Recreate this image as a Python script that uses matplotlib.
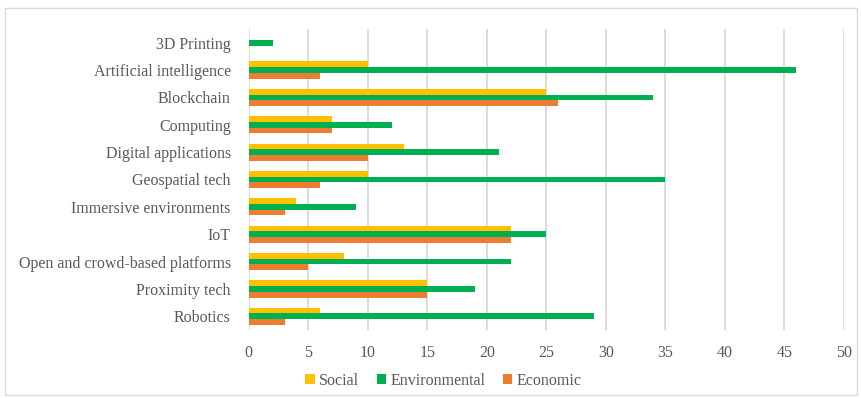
import numpy as np
import matplotlib
matplotlib.use("Agg")
import matplotlib.pyplot as plt
from matplotlib.patches import Rectangle

categories = ["3D Printing", "Artificial intelligence", "Blockchain", "Computing",
              "Digital applications", "Geospatial tech", "Immersive environments",
              "IoT", "Open and crowd-based platforms", "Proximity tech", "Robotics"]
social = [0, 10, 25, 7, 13, 10, 4, 22, 8, 15, 6]
environmental = [2, 46, 34, 12, 21, 35, 9, 25, 22, 19, 29]
economic = [0, 6, 26, 7, 10, 6, 3, 22, 5, 15, 3]

plt.rcParams['font.family'] = ['Liberation Serif', 'DejaVu Serif']
text_color = '#595959'

fig = plt.figure(figsize=(8.61, 3.98), dpi=100)
ax = fig.add_axes([0.289, 0.171, 0.691, 0.756])

y = np.arange(len(categories))
h = 0.21
ax.barh(y - h, social, height=h, color='#FFC000', label='Social')
ax.barh(y, environmental, height=h, color='#00B050', label='Environmental')
ax.barh(y + h, economic, height=h, color='#ED7D31', label='Economic')

ax.set_ylim(len(categories) - 0.5, -0.5)
ax.set_yticks(y)
ax.set_yticklabels(categories)
ax.set_xlim(0, 50)
ax.set_xticks(range(0, 51, 5))
ax.xaxis.grid(True, color='#d9d9d9', linewidth=1.3)
ax.set_axisbelow(True)
for s in ax.spines.values():
    s.set_visible(False)
ax.tick_params(length=0, labelsize=11.5, colors=text_color, pad=13)
ax.tick_params(axis='x', pad=11)

fig.legend(loc='center', bbox_to_anchor=(0.515, 0.043), ncol=3, frameon=False,
           fontsize=11.5, labelcolor=text_color, handlelength=0.6, handleheight=0.6,
           handletextpad=0.25, columnspacing=1.1)

fig.patches.append(Rectangle((5 / 861, 1 - 395 / 398), 852 / 861, 387 / 398,
                             transform=fig.transFigure, fill=False,
                             edgecolor='#d9d9d9', linewidth=1))

fig.savefig('out.png', dpi=100)
